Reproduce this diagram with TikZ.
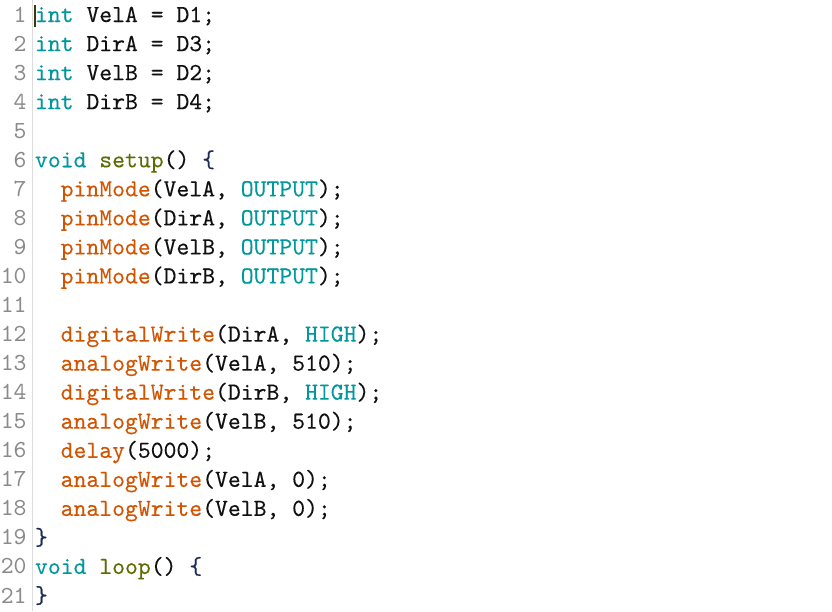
\documentclass[tikz,border=0pt]{standalone}
\usepackage{fontspec}
\newfontfamily\codefont{lmmono10-regular}[Extension=.otf,FakeBold=0.2]
\newfontfamily\numfont{lmmono10-regular}[Extension=.otf]
\definecolor{kwteal}{HTML}{00979D}
\definecolor{fnorange}{HTML}{D35400}
\definecolor{defolive}{HTML}{5E6D03}
\definecolor{lnumgray}{HTML}{8A8A8A}
\definecolor{codeblack}{HTML}{111111}
\definecolor{bracenavy}{HTML}{1C2A55}
\definecolor{sepgray}{HTML}{DCDCDC}
\definecolor{cursorcol}{HTML}{3A3A10}
\newcommand{\ckw}[1]{\textcolor{kwteal}{#1}}
\newcommand{\cfn}[1]{\textcolor{fnorange}{#1}}
\newcommand{\cdef}[1]{\textcolor{defolive}{#1}}
\newcommand{\cbr}[1]{\textcolor{bracenavy}{#1}}
\begin{document}
\begin{tikzpicture}[x=1pt,y=-1pt,
  codeline/.style={anchor=base west,inner sep=0pt,outer sep=0pt,font=\codefont\fontsize{24.5}{26}\selectfont,text=codeblack},
  linenum/.style={anchor=base east,inner sep=0pt,outer sep=0pt,font=\numfont\fontsize{24.5}{26}\selectfont,text=lnumgray}]
\useasboundingbox[fill=white] (0,0) rectangle (832,611);
\draw[sepgray,line width=1pt] (32,0) -- (32,611);
\foreach \i in {1,...,21}{
  \node[linenum] (n\i) at (26.5,{22+(\i-1)*29.05}) {\i};
}
\def\xa{35}
\def\xb{60.7}
\node[codeline] (l1) at (\xa,22) {\ckw{int} VelA = D1;};
\node[codeline] (l2) at (\xa,51.05) {\ckw{int} DirA = D3;};
\node[codeline] (l3) at (\xa,80.1) {\ckw{int} VelB = D2;};
\node[codeline] (l4) at (\xa,109.15) {\ckw{int} DirB = D4;};
\node[codeline] (l6) at (\xa,167.25) {\ckw{void} \cdef{setup}() \cbr{\{}};
\node[codeline] (l7) at (\xb,196.3) {\cfn{pinMode}(VelA, \ckw{OUTPUT});};
\node[codeline] (l8) at (\xb,225.35) {\cfn{pinMode}(DirA, \ckw{OUTPUT});};
\node[codeline] (l9) at (\xb,254.4) {\cfn{pinMode}(VelB, \ckw{OUTPUT});};
\node[codeline] (l10) at (\xb,283.45) {\cfn{pinMode}(DirB, \ckw{OUTPUT});};
\node[codeline] (l12) at (\xb,341.55) {\cfn{digitalWrite}(DirA, \ckw{HIGH});};
\node[codeline] (l13) at (\xb,370.6) {\cfn{analogWrite}(VelA, 510);};
\node[codeline] (l14) at (\xb,399.65) {\cfn{digitalWrite}(DirB, \ckw{HIGH});};
\node[codeline] (l15) at (\xb,428.7) {\cfn{analogWrite}(VelB, 510);};
\node[codeline] (l16) at (\xb,457.75) {\cfn{delay}(5000);};
\node[codeline] (l17) at (\xb,486.8) {\cfn{analogWrite}(VelA, 0);};
\node[codeline] (l18) at (\xb,515.85) {\cfn{analogWrite}(VelB, 0);};
\node[codeline] (l19) at (\xa,544.9) {\cbr{\}}};
\node[codeline] (l20) at (\xa,573.95) {\ckw{void} \cdef{loop}() \cbr{\{}};
\node[codeline] (l21) at (\xa,603) {\cbr{\}}};
\draw[cursorcol,line width=2pt] (35,5) -- (35,27);
\end{tikzpicture}
\end{document}
